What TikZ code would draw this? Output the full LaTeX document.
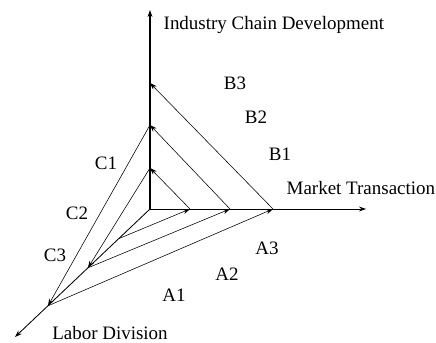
\documentclass[tikz,border=0pt]{standalone}
\usepackage{fontspec}
\setmainfont{Liberation Serif}
\usetikzlibrary{arrows.meta}
\begin{document}
\begin{tikzpicture}[
font=\fontsize{13.5}{16}\selectfont,
axis/.style={-{Stealth[length=5pt,width=3.5pt]}, line width=0.6pt},
arrow/.style={-{Stealth[length=5pt,width=3.5pt]}, line width=0.4pt},
lbl/.style={inner sep=1pt}
]
\useasboundingbox (-3.75,-3.35) rectangle (7.15,5.225);
% axes
\coordinate (o) at (0,0);
\coordinate (icd) at (0,4.975);
\coordinate (mt) at (5.4,0);
\coordinate (ld) at (-3.375,-3.2);
\draw[axis, line width=0.9pt] (o) -- (icd);
\draw[axis] (o) -- (mt);
\draw[axis] (o) -- (ld);
% points on the axes
\coordinate (x1) at (1,0);
\coordinate (x2) at (2,0);
\coordinate (x3) at (3.075,0);
\coordinate (y1) at (0,1.025);
\coordinate (y2) at (0,2.1);
\coordinate (y3) at (0,3.15);
\coordinate (z1) at (-0.78,-0.74);
\coordinate (z2) at (-1.55,-1.47);
\coordinate (z3) at (-2.55,-2.42);
% spiral
\draw[arrow] (z1) -- (x1);
\draw[arrow] (x1) -- (y1);
\draw[arrow] (y1) -- (z2);
\draw[arrow] (z2) -- (x2);
\draw[arrow] (x2) -- (y2);
\draw[arrow] (y2) -- (z3);
\draw[arrow] (z3) -- (x3);
\draw[arrow] (x3) -- (y3);
% labels
\node[lbl, anchor=west] (icdlbl) at (0.3,4.6) {Industry Chain Development};
\node[lbl, anchor=west] (mtlbl) at (3.375,0.525) {Market Transaction};
\node[lbl] (ldlbl) at (-1.0,-3.1) {Labor Division};
\node[lbl] (b3) at (2.125,3.15) {B3};
\node[lbl] (b2) at (2.65,2.3) {B2};
\node[lbl] (b1) at (3.25,1.375) {B1};
\node[lbl] (c1) at (-1.1,1.15) {C1};
\node[lbl] (c2) at (-1.825,-0.1) {C2};
\node[lbl] (c3) at (-2.375,-1.15) {C3};
\node[lbl] (a3) at (2.925,-0.975) {A3};
\node[lbl] (a2) at (1.925,-1.625) {A2};
\node[lbl] (a1) at (0.6,-2.15) {A1};
\end{tikzpicture}
\end{document}
